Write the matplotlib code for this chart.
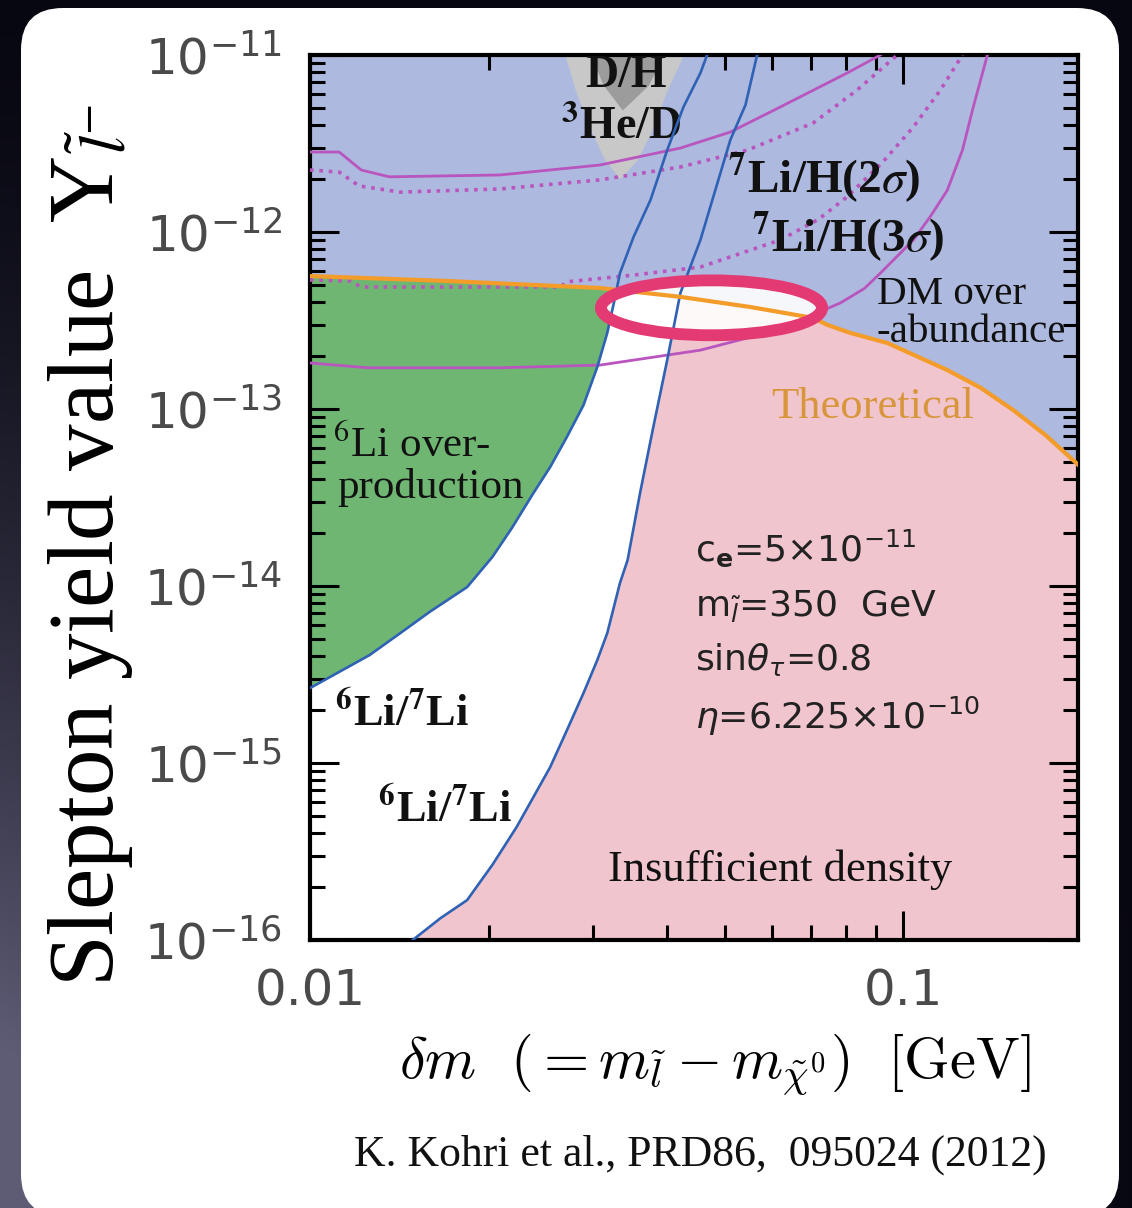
import numpy as np
import matplotlib.pyplot as plt
from matplotlib.patches import Ellipse, Polygon, FancyBboxPatch
from matplotlib.ticker import LogLocator, NullFormatter, FuncFormatter

# ---- values: dm [GeV] vs slepton yield Y ----
x_lim = (0.01, 0.197)
y_lim = (1e-16, 1e-11)

# "Theoretical" line (DM over-abundance boundary)
theo_x = [0.0100, 0.0172, 0.0308, 0.0421, 0.0552, 0.0705, 0.0744, 0.0814, 0.0940, 0.1186, 0.1349,
          0.1532, 0.1736, 0.1973]
theo_y = [5.64e-13, 5.28e-13, 4.83e-13, 4.30e-13, 3.77e-13, 3.27e-13, 2.99e-13, 2.69e-13, 2.36e-13, 1.66e-13,
          1.32e-13, 9.86e-14, 7.13e-14, 4.83e-14]

# 6Li/7Li bounds (blue)
li67_left_x = [0.0100, 0.0112, 0.0126, 0.0142, 0.0159, 0.0184, 0.0203, 0.0219, 0.0238, 0.0254, 0.0271,
               0.0289, 0.0305, 0.0317, 0.0326, 0.0333, 0.0351, 0.0375, 0.0400, 0.0426, 0.0455, 0.0467]
li67_left_y = [2.65e-15, 3.27e-15, 4.07e-15, 5.42e-15, 7.13e-15, 9.86e-15, 1.46e-14, 2.13e-14, 3.35e-14, 4.70e-14,
               6.95e-14, 1.05e-13, 1.73e-13, 2.69e-13, 4.13e-13, 5.86e-13, 9.37e-13, 1.52e-12, 2.90e-12, 5.08e-12,
               7.91e-12, 1.0e-11]
li67_right_x = [0.0149, 0.0166, 0.0184, 0.0203, 0.0223, 0.0254, 0.0271, 0.0289, 0.0305, 0.0317, 0.0333,
                0.0343, 0.0360, 0.0379, 0.0400, 0.0421, 0.0455, 0.0511, 0.0542, 0.0567]
li67_right_y = [1.0e-16, 1.33e-16, 1.68e-16, 2.66e-16, 4.35e-16, 9.48e-16, 1.53e-15, 2.48e-15, 3.82e-15, 5.42e-15,
                1.04e-14, 1.40e-14, 3.35e-14, 7.91e-14, 1.89e-13, 4.52e-13, 9.01e-13, 3.31e-12, 5.22e-12, 1.0e-11]

# 7Li/H contours (purple): solid = 2 sigma, dotted = 3 sigma
li7_2s_up_x = [0.0100, 0.0112, 0.0122, 0.0136, 0.0209, 0.0308, 0.0421, 0.0511, 0.0620, 0.0804, 0.0915]
li7_2s_up_y = [2.83e-12, 2.83e-12, 2.24e-12, 2.05e-12, 2.10e-12, 2.39e-12, 2.98e-12, 3.67e-12, 5.08e-12, 7.91e-12, 1.0e-11]
li7_3s_up_x = [0.0100, 0.0112, 0.0121, 0.0142, 0.0209, 0.0308, 0.0421, 0.0546, 0.0705, 0.0836, 0.0977]
li7_3s_up_y = [2.24e-12, 2.18e-12, 1.82e-12, 1.68e-12, 1.75e-12, 1.97e-12, 2.33e-12, 2.90e-12, 4.13e-12, 6.34e-12, 1.0e-11]
li7_3s_lo_x = [0.0100, 0.0117, 0.0122, 0.0264, 0.0271, 0.0351, 0.0455, 0.0620, 0.0720, 0.0804, 0.0920, 0.1040,
               0.1155, 0.1258]
li7_3s_lo_y = [5.36e-13, 5.28e-13, 4.89e-13, 4.89e-13, 5.23e-13, 5.71e-13, 6.34e-13, 9.01e-13, 1.18e-12, 1.58e-12,
               2.45e-12, 3.92e-12, 6.34e-12, 1.0e-11]
li7_2s_lo_x = [0.0100, 0.0125, 0.0209, 0.0308, 0.0455, 0.0546, 0.0671, 0.0783, 0.0860, 0.0915, 0.1040, 0.1110,
               0.1186, 0.1258, 0.1312, 0.1386]
li7_2s_lo_y = [1.82e-13, 1.71e-13, 1.71e-13, 1.77e-13, 2.15e-13, 2.52e-13, 3.18e-13, 3.97e-13, 4.80e-13, 5.86e-13,
               9.01e-13, 1.22e-12, 1.72e-12, 2.90e-12, 5.08e-12, 1.0e-11]

# D/H and 3He/D excluded wedges (grey)
dh_y = [1.0e-11, 6.34e-12, 3.77e-12, 2.55e-12, 2.0e-12]
dh_xl = [0.0269, 0.0280, 0.0297, 0.0314, 0.0333]
dh_xr = [0.0426, 0.0400, 0.0377, 0.0356, 0.0333]
he_y = [1.0e-11, 6.77e-12, 4.89e-12]
he_xl = [0.0297, 0.0312, 0.0336]
he_xr = [0.0394, 0.0372, 0.0336]

# highlighted window (ellipse centre)
ell_x, ell_y = 0.0475, 3.73e-13

W, H, DPI = 1132, 1208, 100
c_blue = "#adb9de"
c_green = "#6fb672"
c_pink = "#f1c5cd"
c_orange = "#f39c29"
c_line = "#2f62b5"
c_purple = "#b955be"

fig = plt.figure(figsize=(W / DPI, H / DPI), dpi=DPI)

# dark slide background + white card
bg = fig.add_axes([0, 0, 1, 1], zorder=-3)
gx, gy = np.meshgrid(np.linspace(0, 1, 200), np.linspace(0, 1, 200))
shade = np.clip((gy ** 1.6) * (1 - gx) * 1.25, 0, 1)
c0 = np.array([0.03, 0.03, 0.07])
c1 = np.array([0.37, 0.36, 0.46])
bg.imshow(c0 + shade[..., None] * (c1 - c0), extent=[0, 1, 0, 1], aspect="auto")
bg.axis("off")
card = FancyBboxPatch((0.21, -0.08), 10.98, 12.08, boxstyle="round,pad=0,rounding_size=0.42",
                      transform=fig.dpi_scale_trans, facecolor="white", edgecolor="none", zorder=-2)
fig.add_artist(card)

ax = fig.add_axes([310 / W, 1 - 940 / H, 768 / W, 885 / H])
ax.set_xscale("log")
ax.set_yscale("log")
ax.set_xlim(*x_lim)
ax.set_ylim(*y_lim)
ax.set_facecolor(c_blue)

# regions
ax.fill_between(theo_x, y_lim[0], theo_y, color="white", lw=0, zorder=1)
below = Polygon(list(zip(theo_x, theo_y)) + [(x_lim[1], y_lim[0]), (x_lim[0], y_lim[0])],
                closed=True, transform=ax.transData)
g = ax.fill_betweenx(li67_left_y, x_lim[0], li67_left_x, color=c_green, lw=0, zorder=1.5)
g.set_clip_path(below)
p = ax.fill_betweenx(li67_right_y, li67_right_x, x_lim[1], color=c_pink, lw=0, zorder=1.5)
p.set_clip_path(below)
ax.fill_betweenx(dh_y, dh_xl, dh_xr, color="#c8c8c8", lw=0, zorder=1.6)
ax.fill_betweenx(he_y, he_xl, he_xr, color="#9c9c9c", lw=0, zorder=1.7)

# ellipse interior (glossy white)
ctr = ax.transAxes.inverted().transform(ax.transData.transform((ell_x, ell_y)))
ax.add_patch(Ellipse(ctr, 0.288, 0.062, transform=ax.transAxes, facecolor="white",
                     edgecolor="none", alpha=0.9, zorder=2.5))

# lines
ax.plot(li7_2s_up_x, li7_2s_up_y, color=c_purple, lw=2.0, zorder=3)
ax.plot(li7_2s_lo_x, li7_2s_lo_y, color=c_purple, lw=2.0, zorder=3)
ax.plot(li7_3s_up_x, li7_3s_up_y, color=c_purple, lw=2.6, ls=(0, (1, 1.6)), zorder=3)
ax.plot(li7_3s_lo_x, li7_3s_lo_y, color=c_purple, lw=2.6, ls=(0, (1, 1.6)), zorder=3)
ax.plot(li67_left_x, li67_left_y, color=c_line, lw=1.9, zorder=3.2)
ax.plot(li67_right_x, li67_right_y, color=c_line, lw=1.9, zorder=3.2)
ax.plot(theo_x, theo_y, color=c_orange, lw=3.0, zorder=3.4)

ax.add_patch(Ellipse(ctr, 0.288, 0.062, transform=ax.transAxes, facecolor="none",
                     edgecolor="#e33a73", lw=8.5, zorder=10, clip_on=False))

# labels inside the plot
serif = dict(family="Liberation Serif", math_fontfamily="stix", color="#111111")
T = ax.transAxes
ax.text(0.411, 0.976, "D/H", transform=T, ha="center", va="center", fontsize=33, fontweight="bold", **serif)
ax.text(0.405, 0.918, r"$^{\mathbf{3}}$He/D", transform=T, ha="center", va="center", fontsize=33, fontweight="bold", **serif)
ax.text(0.544, 0.861, r"$^{\mathbf{7}}$Li/H(2$\sigma$)", transform=T, ha="left", va="center", fontsize=34, fontweight="bold", **serif)
ax.text(0.576, 0.794, r"$^{\mathbf{7}}$Li/H(3$\sigma$)", transform=T, ha="left", va="center", fontsize=34, fontweight="bold", **serif)
ax.text(0.738, 0.729, "DM over", transform=T, ha="left", va="center", fontsize=29.5, **serif)
ax.text(0.738, 0.687, "-abundance", transform=T, ha="left", va="center", fontsize=29.5, **serif)
ax.text(0.733, 0.602, "Theoretical", transform=T, ha="center", va="center", fontsize=32,
        family="Liberation Serif", color="#d8963c")
ax.text(0.030, 0.559, r"$^{6}$Li over-", transform=T, ha="left", va="center", fontsize=31, **serif)
ax.text(0.036, 0.511, "production", transform=T, ha="left", va="center", fontsize=31, **serif)
ax.text(0.033, 0.256, r"$^{\mathbf{6}}$Li/$^{\mathbf{7}}$Li", transform=T, ha="left", va="center", fontsize=32, fontweight="bold", **serif)
ax.text(0.089, 0.147, r"$^{\mathbf{6}}$Li/$^{\mathbf{7}}$Li", transform=T, ha="left", va="center", fontsize=32, fontweight="bold", **serif)
ax.text(0.612, 0.079, "Insufficient density", transform=T, ha="center", va="center", fontsize=32, **serif)

params = [r"c$_{\mathbf{e}}$=5×10$^{-11}$", r"m$_{\tilde{l}}$=350  GeV",
          r"sin$\theta_{\tau}$=0.8", r"$\eta$=6.225×10$^{-10}$"]
for i, s in enumerate(params):
    ax.text(0.501, [0.443, 0.377, 0.317, 0.253][i], s, transform=T, ha="left", va="center",
            fontsize=26, color="#222222")

# axes styling
for sp in ax.spines.values():
    sp.set_linewidth(3)
ax.tick_params(which="both", direction="in", top=True, right=True, width=2.2, colors="black",
               labelcolor="#4a4a4a", labelsize=36)
ax.tick_params(which="major", length=21, pad=20)
ax.tick_params(which="minor", length=11)
ax.yaxis.set_minor_locator(LogLocator(base=10, subs=np.arange(2, 10)))
ax.xaxis.set_minor_locator(LogLocator(base=10, subs=np.arange(2, 10)))
ax.xaxis.set_minor_formatter(NullFormatter())
ax.yaxis.set_minor_formatter(NullFormatter())
ax.xaxis.set_major_formatter(FuncFormatter(lambda v, pos: f"{v:g}"))

ax.set_ylabel(r"Slepton yield value  Y$_{\tilde{l}^{-}}$", fontsize=67, family="Liberation Serif",
              math_fontfamily="stix", va="center", color="black")
ax.yaxis.set_label_coords(-0.286, 0.446)
ax.set_xlabel(r"$\delta m\ \ (= m_{\tilde{l}} - m_{\tilde{\chi}^0})\ \ [\mathrm{GeV}]$", fontsize=42,
              math_fontfamily="cm", va="center", color="black")
ax.xaxis.set_label_coords(0.527, -0.141)

fig.text(700 / W, 1 - 1155 / H, "K. Kohri et al., PRD86,  095024 (2012)", ha="center", va="center",
         fontsize=31.5, family="Liberation Serif", color="#111111")

fig.savefig("out.png", dpi=DPI)
